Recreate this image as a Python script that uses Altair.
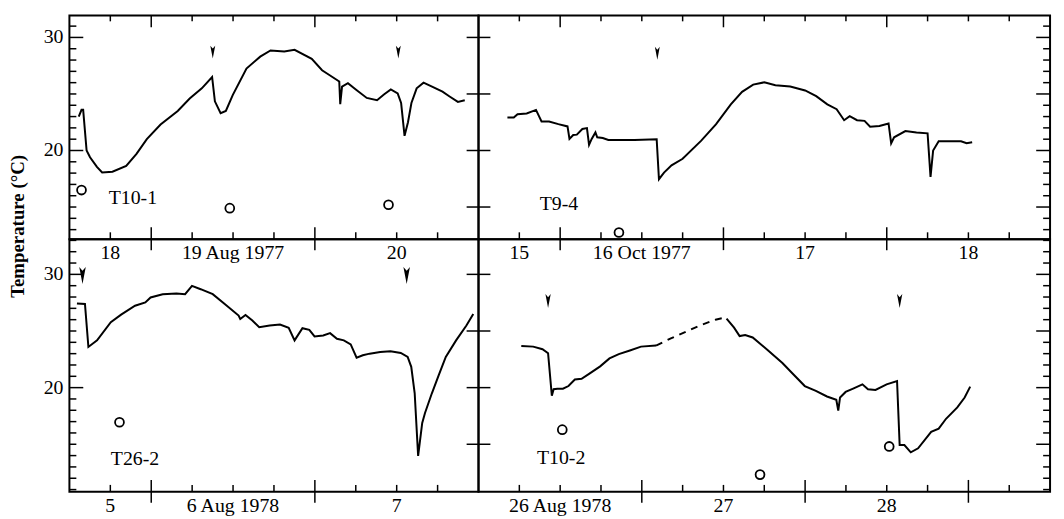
import altair as alt
import pandas as pd
import numpy as np

FONT = "Liberation Serif"
FS = 20

# ---------------- data (x = day of month + fraction of day) ----------------
# T10-1, 18-20 Aug 1977
t101_day = [18.557, 18.574, 18.584, 18.605, 18.626, 18.668, 18.700, 18.763, 18.847, 18.910,
            18.973, 19.057, 19.162, 19.235, 19.309, 19.372, 19.389, 19.424, 19.456, 19.498,
            19.582, 19.666, 19.729, 19.813, 19.876, 19.981, 20.044, 20.086, 20.149, 20.155,
            20.166, 20.202, 20.254, 20.317, 20.380, 20.422, 20.464, 20.506, 20.527, 20.548,
            20.569, 20.590, 20.622, 20.664, 20.716, 20.780, 20.821, 20.874, 20.916]
t101_temp = [23.0, 23.6, 23.6, 20.0, 19.4, 18.55, 18.06, 18.12, 18.64, 19.7,
             21.0, 22.3, 23.5, 24.6, 25.5, 26.5, 24.35, 23.3, 23.5, 24.9,
             27.25, 28.3, 28.85, 28.75, 28.9, 28.1, 27.1, 26.7, 26.1, 24.1,
             25.65, 25.95, 25.35, 24.65, 24.45, 24.95, 25.4, 25.05, 24.2, 21.3,
             22.5, 24.2, 25.5, 26.0, 25.65, 25.2, 24.8, 24.3, 24.45]
t101_circle_day = [18.574, 19.48, 20.45]
t101_circle_temp = [16.5, 14.9, 15.2]
t101_arrow_day = [19.376, 20.51]
t101_arrow_temp = [28.7, 28.7]

# T9-4, 15-18 Oct 1977
t94_day = [15.677, 15.716, 15.739, 15.795, 15.852, 15.886, 15.932, 15.989, 16.045, 16.057,
           16.080, 16.102, 16.136, 16.164, 16.177, 16.193, 16.216, 16.227, 16.261, 16.295,
           16.455, 16.591, 16.605, 16.636, 16.682, 16.750, 16.864, 16.955, 17.045, 17.114,
           17.182, 17.250, 17.318, 17.409, 17.500, 17.568, 17.636, 17.693, 17.739, 17.773,
           17.818, 17.864, 17.898, 17.955, 18.011, 18.027, 18.045, 18.114, 18.182, 18.250,
           18.268, 18.284, 18.318, 18.386, 18.455, 18.489, 18.523]
t94_temp = [22.92, 22.92, 23.21, 23.27, 23.59, 22.57, 22.57, 22.33, 22.13, 21.02,
            21.37, 21.40, 21.90, 21.98, 20.50, 21.02, 21.60, 21.17, 21.11, 20.93,
            20.93, 20.99, 17.46, 18.05, 18.69, 19.27, 20.87, 22.33, 24.08, 25.19,
            25.83, 26.03, 25.77, 25.66, 25.31, 24.81, 24.08, 23.65, 22.68, 23.03,
            22.68, 22.62, 22.10, 22.16, 22.39, 20.64, 21.17, 21.72, 21.60, 21.52,
            17.67, 20.0, 20.82, 20.82, 20.82, 20.64, 20.73]
t94_circle_day = [16.36]
t94_circle_temp = [12.75]
t94_arrow_day = [16.595]
t94_arrow_temp = [28.6]

# T26-2, 5-7 Aug 1978
t262_day = [5.546, 5.595, 5.616, 5.669, 5.753, 5.816, 5.901, 5.964, 5.996, 6.070,
            6.154, 6.207, 6.249, 6.302, 6.376, 6.449, 6.534, 6.544, 6.576, 6.618,
            6.660, 6.724, 6.787, 6.840, 6.876, 6.924, 6.966, 6.998, 7.051, 7.093,
            7.135, 7.177, 7.219, 7.255, 7.293, 7.335, 7.399, 7.462, 7.525, 7.567,
            7.589, 7.610, 7.631, 7.656, 7.673, 7.715, 7.757, 7.800, 7.863, 7.926, 7.968]
t262_temp = [27.43, 27.38, 23.59, 24.17, 25.77, 26.44, 27.23, 27.52, 27.96, 28.25,
             28.31, 28.25, 28.98, 28.69, 28.25, 27.38, 26.36, 26.06, 26.41, 25.92,
             25.34, 25.48, 25.57, 25.28, 24.17, 25.25, 25.10, 24.52, 24.61, 24.81,
             24.31, 24.17, 23.82, 22.65, 22.86, 23.00, 23.15, 23.21, 23.06, 22.71,
             21.84, 19.50, 13.97, 16.88, 17.76, 19.50, 21.11, 22.71, 24.17, 25.48, 26.50]
t262_circle_day = [5.806]
t262_circle_temp = [16.94]
t262_arrow_day = [5.58, 7.561]
t262_arrow_temp = [29.9, 29.9]

# T10-2, 26-28 Aug 1978
t102_a_day = [26.262, 26.335, 26.392, 26.426, 26.449, 26.460, 26.483, 26.517, 26.551, 26.590,
              26.631, 26.677, 26.745, 26.802, 26.859, 26.927, 26.995, 27.087]
t102_a_temp = [23.68, 23.62, 23.39, 23.04, 19.28, 19.86, 19.91, 19.91, 20.14, 20.72,
               20.78, 21.22, 21.88, 22.58, 22.96, 23.28, 23.62, 23.71]
t102_dash_day = [27.087, 27.178, 27.269, 27.360, 27.451, 27.497, 27.519]
t102_dash_temp = [23.71, 24.35, 24.93, 25.51, 26.0, 26.14, 26.09]
t102_b_day = [27.519, 27.565, 27.599, 27.633, 27.679, 27.770, 27.861, 27.929, 27.998, 28.066,
              28.134, 28.191, 28.203, 28.214, 28.248, 28.294, 28.351, 28.385, 28.431, 28.499,
              28.563, 28.579, 28.608, 28.647, 28.692, 28.772, 28.818, 28.863, 28.932, 28.977, 29.011]
t102_b_temp = [26.09, 25.30, 24.55, 24.64, 24.43, 23.33, 22.17, 21.16, 20.14, 19.71,
               19.22, 18.93, 17.97, 19.13, 19.62, 19.91, 20.29, 19.86, 19.80, 20.29,
               20.58, 14.93, 14.93, 14.29, 14.64, 16.09, 16.38, 17.25, 18.26, 19.13, 20.09]
t102_circle_day = [26.513, 27.724, 28.515]
t102_circle_temp = [16.29, 12.32, 14.81]
t102_arrow_day = [26.426, 28.579]
t102_arrow_temp = [27.65, 27.65]

# tick labels
tl_label_pos = [18.75, 19.5, 20.5]
tl_labels = ["18", "19 Aug 1977", "20"]
tr_label_pos = [15.75, 16.5, 17.5, 18.5]
tr_labels = ["15", "16 Oct 1977", "17", "18"]
bl_label_pos = [5.75, 6.5, 7.5]
bl_labels = ["5", "6 Aug 1978", "7"]
br_label_pos = [26.5, 27.5, 28.5]
br_labels = ["26 Aug 1978", "27", "28"]
y_label_vals = [20, 30]
y_labels = ["20", "30"]

ARROW = "M-0.38,-1L0,-0.55L0.38,-1L0,1Z"


def df(x, y):
    return pd.DataFrame({"d": x, "t": y, "i": range(len(x))})


def panel(xdom, ydom, w, h, lines, circ, arrow, arrow_size, name, name_pos,
          label_pos, labels, side, top, title=False):
    xs = alt.Scale(domain=xdom, nice=False, zero=False)
    ys = alt.Scale(domain=ydom, nice=False, zero=False)
    X = alt.X("d:Q", scale=xs, axis=None)
    Y = alt.Y("t:Q", scale=ys, axis=None)
    layers = []
    for data, dash in lines:
        kw = dict(color="black", strokeWidth=2)
        if dash:
            kw["strokeDash"] = [7, 6]
        layers.append(alt.Chart(data).mark_line(**kw).encode(x=X, y=Y, order="i:Q"))
    layers.append(alt.Chart(circ).mark_point(shape="circle", filled=False, size=80, opacity=1,
                                             strokeWidth=1.8, color="black").encode(x=X, y=Y))
    layers.append(alt.Chart(arrow).mark_point(shape=ARROW, filled=True, size=arrow_size, opacity=1,
                                              color="black", strokeWidth=0).encode(x=X, y=Y))
    layers.append(alt.Chart(pd.DataFrame({"d": [name_pos[0]], "t": [name_pos[1]], "s": [name]}))
                  .mark_text(font=FONT, fontSize=FS, align="left", baseline="middle", color="black")
                  .encode(x=X, y=Y, text="s:N"))
    # x tick marks
    q = np.arange(np.ceil(xdom[0] * 4) / 4, xdom[1] + 1e-9, 0.25)
    small = [v for v in q if abs(v - round(v)) > 1e-6 and xdom[0] < v < xdom[1]]
    big = [v for v in q if abs(v - round(v)) < 1e-6 and xdom[0] < v < xdom[1]]
    sdf = pd.DataFrame({"d": small})
    bdf = pd.DataFrame({"d": big})
    layers.append(alt.Chart(sdf).mark_rule(color="black", strokeWidth=1.5)
                  .encode(x=X, y=alt.value(h), y2=alt.value(h - 7)))
    layers.append(alt.Chart(bdf).mark_rule(color="black", strokeWidth=1.5)
                  .encode(x=X, y=alt.value(h + 11), y2=alt.value(h - 12)))
    if top:
        layers.append(alt.Chart(sdf).mark_rule(color="black", strokeWidth=1.5)
                      .encode(x=X, y=alt.value(0), y2=alt.value(6)))
        layers.append(alt.Chart(bdf).mark_rule(color="black", strokeWidth=1.5)
                      .encode(x=X, y=alt.value(0), y2=alt.value(12)))
    layers.append(alt.Chart(pd.DataFrame({"d": label_pos, "s": labels}))
                  .mark_text(font=FONT, fontSize=FS, baseline="middle", color="black")
                  .encode(x=X, y=alt.value(h + 14), text="s:N"))
    # y tick marks
    yi = list(range(int(np.ceil(ydom[0])), int(np.floor(ydom[1])) + 1))
    minor = pd.DataFrame({"t": [v for v in yi if v % 5 != 0]})
    five = pd.DataFrame({"t": [v for v in yi if v % 5 == 0]})
    if side == "left":
        ten = pd.DataFrame({"t": [v for v in yi if v % 10 == 0]})
        nonten = pd.DataFrame({"t": [v for v in yi if v % 10 != 0]})
        layers.append(alt.Chart(nonten).mark_rule(color="black", strokeWidth=1.5)
                      .encode(y=Y, x=alt.value(0), x2=alt.value(7)))
        layers.append(alt.Chart(ten).mark_rule(color="black", strokeWidth=1.5)
                      .encode(y=Y, x=alt.value(0), x2=alt.value(14)))
        layers.append(alt.Chart(five).mark_rule(color="black", strokeWidth=1.5)
                      .encode(y=Y, x=alt.value(w - 12), x2=alt.value(w + 12)))
        layers.append(alt.Chart(pd.DataFrame({"t": y_label_vals, "s": y_labels}))
                      .mark_text(font=FONT, fontSize=FS, align="right", baseline="middle", color="black")
                      .encode(y=Y, x=alt.value(-6), text="s:N"))
    else:
        layers.append(alt.Chart(minor).mark_rule(color="black", strokeWidth=1.5)
                      .encode(y=Y, x=alt.value(w), x2=alt.value(w - 7)))
        layers.append(alt.Chart(five).mark_rule(color="black", strokeWidth=1.5)
                      .encode(y=Y, x=alt.value(w), x2=alt.value(w - 14)))
    if title:
        layers.append(alt.Chart(pd.DataFrame({"s": ["Temperature (°C)"]}))
                      .mark_text(font=FONT, fontSize=19, fontWeight="bold", angle=270,
                                 baseline="middle", color="black")
                      .encode(text="s:N", x=alt.value(-52), y=alt.value(213)))
    return alt.layer(*layers).properties(width=w, height=h)


TOP_Y = [12.15, 31.95]
BOT_Y = [10.8, 33.1]

A = panel([18.5, 21.0], TOP_Y, 413, 226,
          [(df(t101_day, t101_temp), False)],
          df(t101_circle_day, t101_circle_temp), df(t101_arrow_day, t101_arrow_temp), 170,
          "T10-1", (18.74, 15.8), tl_label_pos, tl_labels, "left", True, title=True)
B = panel([15.5, 19.0], TOP_Y, 577, 226,
          [(df(t94_day, t94_temp), False)],
          df(t94_circle_day, t94_circle_temp), df(t94_arrow_day, t94_arrow_temp), 170,
          "T9-4", (15.875, 15.3), tr_label_pos, tr_labels, "right", True)
C = panel([5.5, 8.0], BOT_Y, 413, 255,
          [(df(t262_day, t262_temp), False)],
          df(t262_circle_day, t262_circle_temp), df(t262_arrow_day, t262_arrow_temp), 300,
          "T26-2", (5.753, 13.67), bl_label_pos, bl_labels, "left", False)
D = panel([26.0, 29.5], BOT_Y, 577, 255,
          [(df(t102_a_day, t102_a_temp), False), (df(t102_dash_day, t102_dash_temp), True),
           (df(t102_b_day, t102_b_temp), False)],
          df(t102_circle_day, t102_circle_temp), df(t102_arrow_day, t102_arrow_temp), 200,
          "T10-2", (26.358, 13.77), br_label_pos, br_labels, "right", False)

chart = (alt.concat(A, B, C, D, columns=2, spacing=0, bounds="flush")
         .properties(padding={"left": 0, "top": 3, "right": 4, "bottom": 4})
         .configure_view(stroke="black", strokeWidth=2))

chart.save("out.html", embed_options={"renderer": "svg", "actions": False})
